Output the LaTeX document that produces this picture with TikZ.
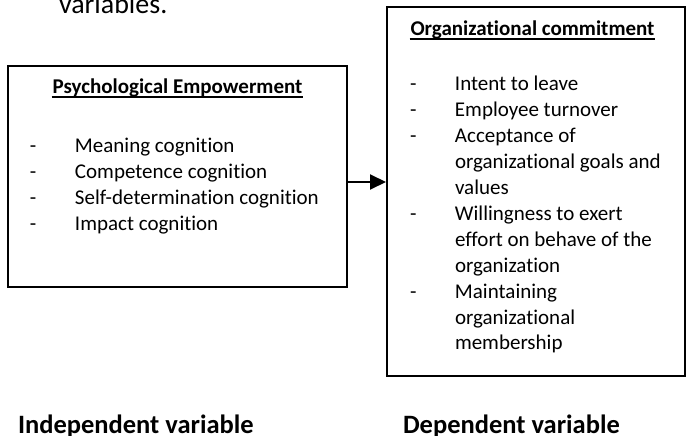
\documentclass[tikz,border=0pt]{standalone}
\usepackage{fontspec}
\setmainfont[Ligatures = NoCommon]{Carlito}
\usetikzlibrary{positioning,calc,arrows.meta}

\begin{document}
\begin{tikzpicture}[x=1pt, y=-1pt, line width=2pt,
    boxtext/.style = {inner sep = 0pt, text = black, font = \fontsize{21}{25.9}\selectfont},
    boxtitle/.style = {inner sep = 0pt, text = black, font = \fontsize{21}{25.9}\selectfont\bfseries},
    varlabel/.style = {inner sep = 0pt, text = black, font = \fontsize{26.5}{32}\selectfont\bfseries},
    titleline/.style = {line width = 1.4pt}]

        \useasboundingbox (0,0) rectangle (686,436);
        \clip (0,0) rectangle (686,436);

        %end of the caption above
        \node[inner sep = 0pt, anchor = base west,
        font = \fontsize{28}{34}\selectfont] (V) at (58,14) {variables.};

        %independent variable
        \node[draw = black,
        minimum width = 339pt,
        minimum height = 221pt] (PE) at (177.5,176.5) {};

        \node[boxtitle, anchor = base] (PEt) at ($(PE.north) + (0,29)$) {Psychological Empowerment};
        \draw[titleline] ($(PEt.base west) + (0,3)$) -- ($(PEt.base east) + (0,3)$);

        \node[boxtext, anchor = base west] (PEl) at ($(PE.north west) + (22,88)$) {%
        \begin{tabular}[t]{@{}p{45pt}@{}l@{}}
        - & Meaning cognition\\
        - & Competence cognition\\
        - & Self-determination cognition\\
        - & Impact cognition
        \end{tabular}};

        %dependent variable
        \node[draw = black,
        minimum width = 298pt,
        minimum height = 369pt] (OC) at (536,191.5) {};

        \node[boxtitle, anchor = base] (OCt) at ($(OC.north) + (-3.5,30)$) {Organizational commitment};
        \draw[titleline] ($(OCt.base west) + (0,3)$) -- ($(OCt.base east) + (0,3)$);

        \node[boxtext, anchor = base west] (OCl) at ($(OC.north west) + (23,85)$) {%
        \begin{tabular}[t]{@{}p{45pt}@{}l@{}}
        - & Intent to leave\\
        - & Employee turnover\\
        - & Acceptance of\\
          & organizational goals and\\
          & values\\
        - & Willingness to exert\\
          & effort on behave of the\\
          & organization\\
        - & Maintaining\\
          & organizational\\
          & membership
        \end{tabular}};

        %labels under the boxes
        \node[varlabel, anchor = base west] (IV) at ($(PE.south west) + (10,145)$) {Independent variable};
        \node[varlabel, anchor = base west] (DV) at ($(OC.south west) + (16,56)$) {Dependent variable};

        \path[-{Triangle[length=16pt, width=15pt]}]
            ($(PE.east) + (0,5.5)$) edge ($(PE.east -| OC.west) + (0,5.5)$);

\end{tikzpicture}
\end{document}
